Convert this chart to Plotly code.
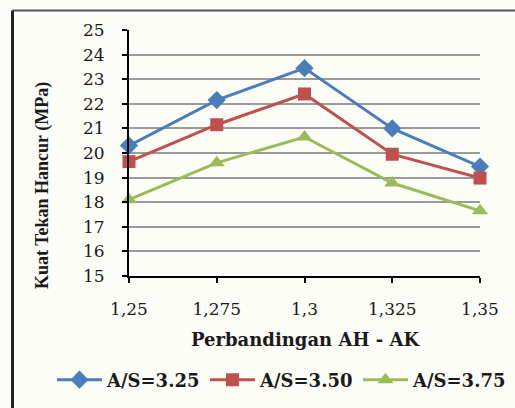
import plotly.graph_objects as go

# Ratio of alkali activators (AH : AK) on the horizontal axis
ratios = [1.25, 1.275, 1.30, 1.325, 1.35]
ratio_labels = ["1,25", "1,275", "1,3", "1,325", "1,35"]

# Compressive strength (MPa) for each aggregate/binder ratio
as_325 = [20.3, 22.15, 23.45, 21.0, 19.45]
as_350 = [19.65, 21.15, 22.4, 19.95, 18.98]
as_375 = [18.1, 19.6, 20.65, 18.78, 17.65]

y_ticks = list(range(15, 26))

W, H = 515, 408
L, R, T, B = 129, 35, 30, 132
pw, ph = W - L - R, H - T - B


def px_x(p):
    return (p - L) / pw


def px_y(p):
    return (H - B - p) / ph


fig = go.Figure()

series = [
    ("A/S=3.25", as_325, "#4A7EBB", "diamond", 14),
    ("A/S=3.50", as_350, "#C0504D", "square", 13),
    ("A/S=3.75", as_375, "#9BBB59", "triangle-up", 14),
]
for name, vals, color, sym, size in series:
    fig.add_trace(go.Scatter(
        x=ratios, y=vals, name=name, mode="lines+markers",
        line=dict(color=color, width=3),
        marker=dict(symbol=sym, size=size, color=color),
        cliponaxis=False,
    ))

axis_font = dict(family="DejaVu Serif", size=17, color="#1a1a1a")

fig.update_xaxes(
    range=[1.25, 1.35], tickvals=ratios, ticktext=ratio_labels,
    showgrid=False, zeroline=False,
    showline=True, linecolor="black", linewidth=2,
    ticks="outside", ticklen=5, tickwidth=2, tickcolor="black",
    tickfont=axis_font, ticklabelstandoff=12,
)
fig.update_yaxes(
    range=[15, 25], tickvals=y_ticks,
    showgrid=True, gridcolor="#9a9a9a", gridwidth=1.5, zeroline=False,
    showline=True, linecolor="black", linewidth=2,
    ticks="outside", ticklen=5, tickwidth=2, tickcolor="black",
    tickfont=axis_font, ticklabelstandoff=14,
)

# Outer chart frame (left and top edges)
fig.add_shape(type="line", xref="paper", yref="paper",
              x0=px_x(12.5), x1=px_x(515), y0=px_y(10.5), y1=px_y(10.5),
              line=dict(color="#555555", width=2))
fig.add_shape(type="line", xref="paper", yref="paper",
              x0=px_x(12.5), x1=px_x(12.5), y0=px_y(10.5), y1=px_y(408),
              line=dict(color="#222222", width=3))

fig.add_annotation(
    text="Perbandingan AH - AK", xref="paper", yref="paper",
    x=px_x(305), y=px_y(339), showarrow=False,
    xanchor="center", yanchor="middle",
    font=dict(family="DejaVu Serif", size=18, color="#1a1a1a", weight="bold"),
)
fig.add_annotation(
    text="Kuat Tekan Hancur (MPa)", xref="paper", yref="paper",
    x=px_x(42), y=px_y(186), showarrow=False, textangle=-90,
    xanchor="center", yanchor="middle",
    font=dict(family="Liberation Serif", size=18, color="#1a1a1a", weight="bold"),
)

fig.update_layout(
    width=W, height=H,
    margin=dict(l=L, r=R, t=T, b=B, autoexpand=False),
    paper_bgcolor="#FDFDF7", plot_bgcolor="#FDFDF7",
    showlegend=True,
    legend=dict(
        orientation="h", xref="paper", yref="paper",
        x=px_x(52), y=px_y(380), xanchor="left", yanchor="middle",
        font=dict(family="DejaVu Serif", size=18, color="#1a1a1a", weight="bold"),
        itemwidth=45, entrywidth=93, entrywidthmode="pixels",
        bgcolor="rgba(0,0,0,0)",
    ),
)

fig.write_html("out.html")
